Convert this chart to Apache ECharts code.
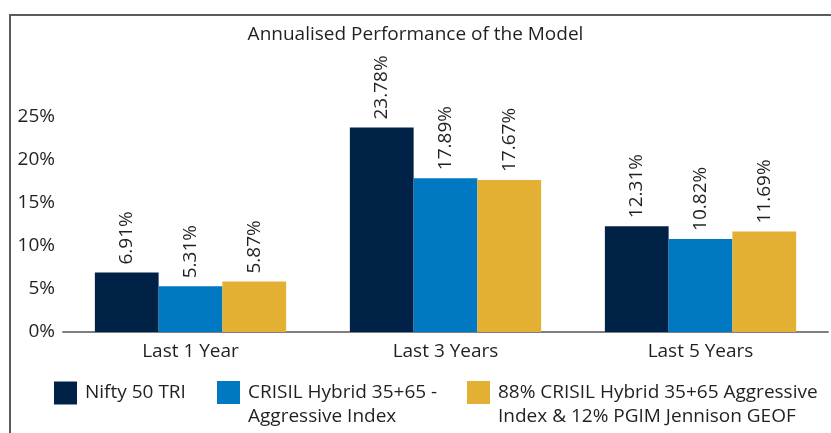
<!DOCTYPE html>
<html>
<head>
<meta charset="utf-8">
<script src="https://cdn.jsdelivr.net/npm/echarts@6/dist/echarts.min.js"></script>
<style>
html,body{margin:0;padding:0;background:#fff;}
#wrap{position:relative;width:831px;height:433px;overflow:hidden;}
#frame{position:absolute;left:9px;top:14px;right:-10px;bottom:-10px;border-top:2px solid #5b5b5b;border-left:2px solid #5b5b5b;}
#chart{position:absolute;left:0;top:0;width:831px;height:433px;}
</style>
</head>
<body>
<div id="wrap"><div id="frame"></div><div id="chart"></div></div>
<script>
const titleText = 'Annualised Performance of the Model';
const categories = ['Last 1 Year', 'Last 3 Years', 'Last 5 Years'];
const seriesNames = ['Nifty 50 TRI', 'CRISIL Hybrid 35+65 -\nAggressive Index', '88% CRISIL Hybrid 35+65 Aggressive\nIndex & 12% PGIM Jennison GEOF'];
const nifty = [6.91, 23.78, 12.31];
const crisil = [5.31, 17.89, 10.82];
const blend = [5.87, 17.67, 11.69];
const colors = ['#002247', '#0079c2', '#e3b033'];
const yTicks = [0, 5, 10, 15, 20, 25];

const FONT = '"Open Sans", sans-serif';
const TXT = '#231f20';
const FS = 19;
const values = [nifty, crisil, blend];
const legendLefts = [54, 217, 467];

const chart = echarts.init(document.getElementById('chart'), null, {renderer: 'canvas'});
chart.setOption({
  animation: false,
  title: {
    text: titleText, left: 'center', top: 20,
    textStyle: {fontFamily: FONT, fontSize: FS, fontWeight: 'normal', color: TXT}
  },
  grid: {left: 63, right: 3, top: 117, bottom: 101, containLabel: false},
  legend: seriesNames.map((n, i) => {
    const extra = n.split('\n').length - 1;
    return {
      data: [n], left: legendLefts[i], top: 381 - 24.5 * extra, padding: 0,
      itemWidth: 23, itemHeight: 23, icon: 'rect', selectedMode: false,
      formatter: name => '\n'.repeat(extra) + name,
      textStyle: {fontFamily: FONT, fontSize: FS, color: TXT, lineHeight: 24, padding: [0, 0, 0, 3]}
    };
  }),
  xAxis: {
    type: 'category', data: categories,
    axisLine: {lineStyle: {color: '#7f7f7f', width: 2}},
    axisTick: {show: false},
    axisLabel: {fontFamily: FONT, fontSize: FS, color: TXT, margin: 10}
  },
  yAxis: {
    type: 'value', min: yTicks[0], max: yTicks[yTicks.length - 1], interval: 5,
    axisLine: {show: false}, axisTick: {show: false}, splitLine: {show: false},
    axisLabel: {fontFamily: FONT, fontSize: FS, color: TXT, margin: 8, formatter: v => v + '%'}
  },
  series: seriesNames.map((n, i) => ({
    name: n, type: 'bar', data: values[i], barGap: '0%', barCategoryGap: '25%',
    itemStyle: {color: colors[i]},
    label: {
      show: true, position: 'top', rotate: 90, align: 'left', verticalAlign: 'middle', distance: 8,
      fontFamily: FONT, fontSize: FS, color: TXT,
      formatter: p => p.value.toFixed(2) + '%'
    }
  }))
});
</script>
</body>
</html>
